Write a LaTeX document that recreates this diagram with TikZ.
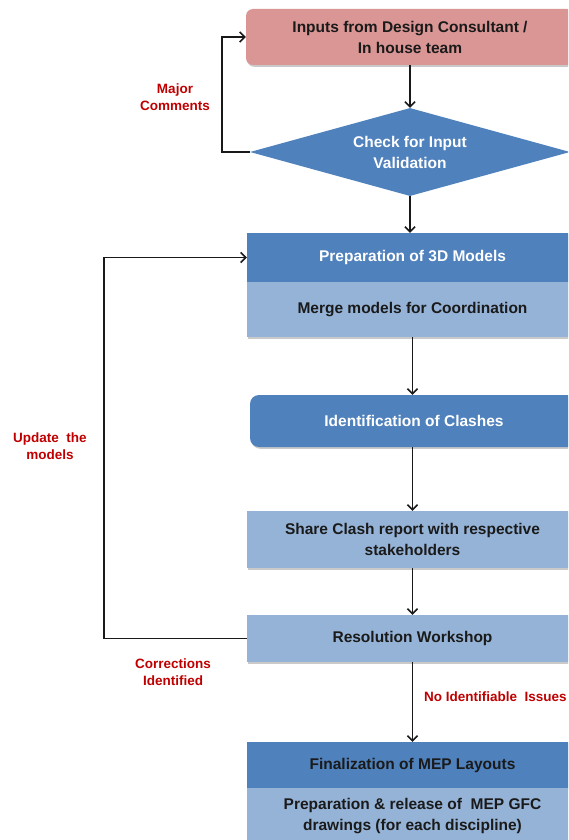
\documentclass[tikz,border=0pt]{standalone}
\usepackage{fontspec}
\setmainfont{Liberation Sans}
\usetikzlibrary{shapes.geometric,shadows,arrows.meta}
\definecolor{dblue}{HTML}{4F81BD}
\definecolor{lblue}{HTML}{95B3D7}
\definecolor{pinkb}{HTML}{D99694}
\definecolor{redt}{HTML}{C00000}
\definecolor{darkt}{HTML}{1A1A1A}
\begin{document}
\begin{tikzpicture}[x=1pt,y=-1pt]
\tikzset{
  box/.style={rectangle, minimum width=331pt, inner sep=0pt, font=\fontsize{15.5}{21}\selectfont\bfseries, align=center},
  shad/.style={drop shadow={opacity=0.35, shadow xshift=1.2pt, shadow yshift=-1.8pt, fill=black!60}},
  arr/.style={draw=black!90, line width=1.8pt, -{Straight Barb[length=5pt,width=10pt,line width=1.6pt]}},
  lbl/.style={text=redt, font=\fontsize{13.5}{17}\selectfont\bfseries, align=center, inner sep=0pt}
}
\useasboundingbox (0,0) rectangle (568,840);
\clip (0,0) rectangle (568,840);
\fill[white] (0,0) rectangle (568,840);

% boxes
\node[box, fill=pinkb, rounded corners=7pt, minimum width=328pt, minimum height=56pt, text=darkt, shad] (inp) at (410,37) {Inputs from Design Consultant /\\In house team};
\node[diamond, shape aspect=3.6, fill=dblue, minimum width=320pt, minimum height=88pt, inner sep=0pt, text=white, font=\fontsize{15.5}{21}\selectfont\bfseries, align=center] (chk) at (410,152) {Check for Input\\Validation};

\node[box, fill=dblue, minimum height=49pt, text=white, shad] (prep) at (412.5,257.5) {Preparation of 3D Models};
\node[box, fill=lblue, minimum height=55pt, text=darkt, shad] (merge) at (412.5,309.5) {Merge models for Coordination};

\node[box, fill=dblue, rounded corners=9pt, minimum width=328pt, minimum height=52pt, text=white, shad] (ident) at (414,421) {Identification of Clashes};

\node[box, fill=lblue, minimum height=57pt, text=darkt, shad] (share) at (412.5,539.5) {Share Clash report with respective\\stakeholders};

\node[box, fill=lblue, minimum height=47pt, text=darkt, shad] (res) at (412.5,638.5) {Resolution Workshop};

\node[box, fill=dblue, minimum height=46pt, text=darkt, shad] (fintop) at (412.5,765) {Finalization of MEP Layouts};
\node[box, fill=lblue, minimum height=56pt, text=darkt] (finbot) at (412.5,816) {Preparation \& release of\ \ MEP GFC\\drawings (for each discipline)};

% connectors
\draw[arr] (inp.south) -- (chk.north);
\draw[arr] (chk.south) -- (chk.south |- prep.north);
\draw[arr] (merge.south) -- (merge.south |- ident.north);
\draw[arr] (ident.south -| merge.south) -- (share.north);
\draw[arr] (share.south) -- (res.north);
\draw[arr] (res.south) -- (fintop.north);

\coordinate (lp1) at (222,152);
\draw[arr] (chk.west) -- (lp1) |- (inp.west);
\coordinate (lp2) at (104,638.5);
\draw[arr] (res.west) -- (lp2) |- (prep.west);

% labels
\node[lbl] (lmaj) at (175,97) {Major\\Comments};
\node[lbl] (lupd) at (50,446) {Update\ \ the\\models};
\node[lbl] (lcor) at (173,672) {Corrections\\Identified};
\node[lbl, anchor=west] (lno) at (424,697) {No Identifiable\ \ Issues};
\end{tikzpicture}
\end{document}
